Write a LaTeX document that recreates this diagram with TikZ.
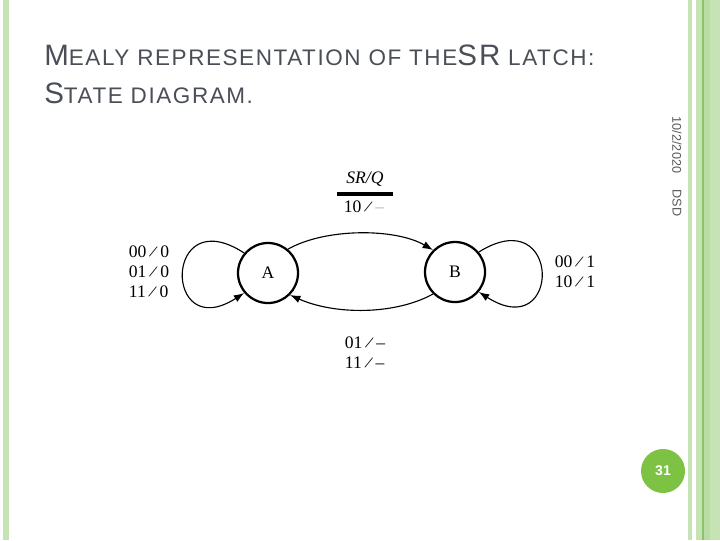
\documentclass[tikz,border=0pt]{standalone}
\usepackage{fontspec}
\setmainfont{Liberation Serif}
\newfontfamily\titlefont[LetterSpace=7]{Liberation Sans}
\newfontfamily\slidefont{Liberation Sans}
\usetikzlibrary{arrows.meta,positioning}
\definecolor{barlight}{HTML}{C6E3B6}
\definecolor{barmid}{HTML}{B8DCA4}
\definecolor{bardark}{HTML}{8DC26B}
\definecolor{pagegreen}{HTML}{7DC242}
\definecolor{titlegray}{HTML}{4A4E57}
\definecolor{notegray}{HTML}{5A5A5A}
\newcommand{\trsl}{\kern0.15em\rotatebox[origin=c]{-20}{/}\kern0.15em}
\tikzset{
  statebox/.style={draw, circle, line width=1.6pt, minimum size=1.5cm,
                   inner sep=0pt, font=\fontsize{12.5}{14}\selectfont},
  lbl/.style={align=left, inner sep=0pt, font=\fontsize{12.5}{14.2}\selectfont},
  arr/.style={-{Latex[length=2.6mm,width=1.9mm]}, line width=0.8pt},
  sidenote/.style={rotate=-90, inner sep=0pt, text=notegray,
                   font=\slidefont\fontsize{9}{10}\selectfont}}

\begin{document}
\begin{tikzpicture}[x=0.025cm, y=-0.025cm]
  \useasboundingbox (0,0) rectangle (720,540);
  \fill[white] (0,0) rectangle (720,540);
  % slide borders
  \fill[barlight] (3,0) rectangle (9,540);
  \fill[barlight] (688,0) rectangle (692,540);
  \fill[barlight] (696,0) rectangle (702,540);
  \fill[bardark] (702,0) rectangle (703.5,540);
  \fill[barmid] (703.5,0) rectangle (710,540);
  \fill[barlight] (710,0) rectangle (720,540);
  % title
  \node[anchor=base west, inner sep=0pt, text=titlegray, font=\titlefont] (title1) at (44,65)
    {{\fontsize{21}{21}\selectfont M}\fontsize{16}{16}\selectfont EALY REPRESENTATION OF THE{\fontsize{21}{21}\selectfont SR} LATCH:};
  \node[anchor=base west, inner sep=0pt, text=titlegray, font=\titlefont] (title2) at (44,103)
    {{\fontsize{21}{21}\selectfont S}\fontsize{16}{16}\selectfont TATE DIAGRAM.};
  % states
  \node[statebox] (A) at (268,273) {A};
  \node[statebox] (B) at (455,272) {B};
  % transitions
  \draw[arr] (A.140) .. controls (163,200) and (163,345) .. (A.220);
  \draw[arr] (B.40) .. controls (562,200) and (562,345) .. (B.320);
  \draw[arr] (A.50) .. controls (325,228) and (395,228) .. (B.135);
  \draw[arr] (B.225) .. controls (395,315) and (335,315) .. (A.315);
  % labels
  \node[lbl] (loopA) at (149,272) {00\trsl0\\01\trsl0\\11\trsl0};
  \node[lbl] (loopB) at (575,272) {00\trsl1\\10\trsl1};
  \node[lbl] (ba) at (365,353) {01\trsl--\\11\trsl--};
  \node[lbl] (ab) at (364,207) {10\trsl\textcolor{black!30}{--}};
  \node[lbl, font=\fontsize{12.5}{14}\itshape] (key) at (365,179) {SR/Q};
  \draw[line width=2.2pt] (337,194) -- (393,194);
  % slide footer
  \node[sidenote] (date) at (677,145) {10/2/2020};
  \node[sidenote] (dsd) at (677,203) {DSD};
  \node[circle, fill=pagegreen, minimum size=1.1cm, inner sep=0pt, text=white,
        font=\slidefont\bfseries\fontsize{10}{10}\selectfont] (page) at (663,471) {31};
\end{tikzpicture}
\end{document}
